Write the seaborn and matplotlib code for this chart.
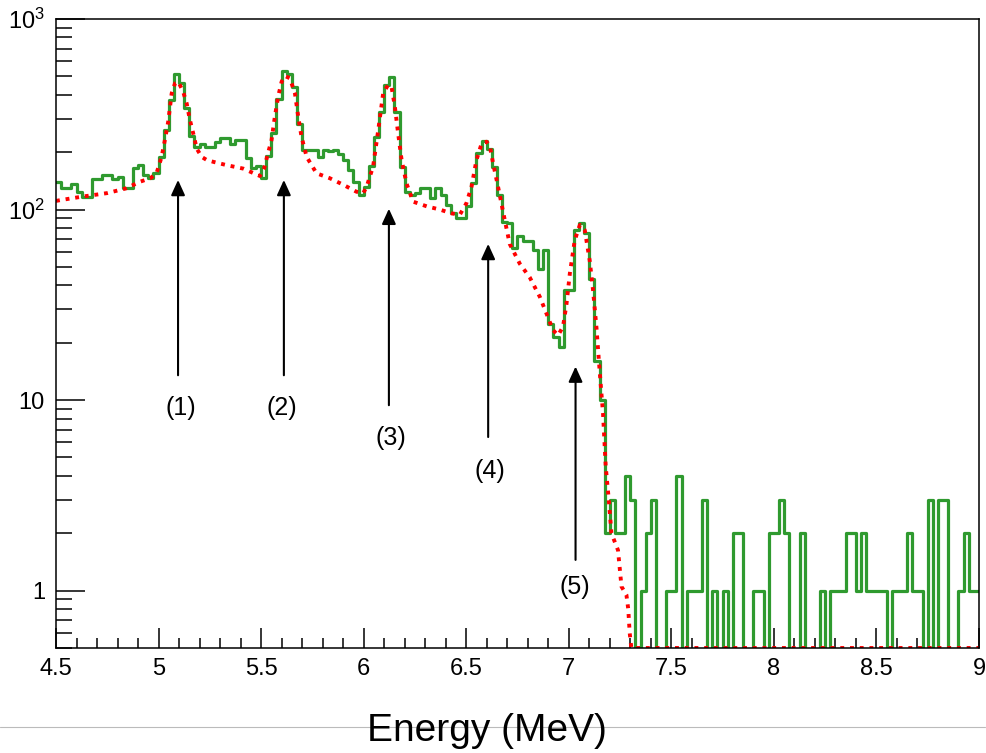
import numpy as np
import pandas as pd
import matplotlib
matplotlib.use("Agg")
import matplotlib.pyplot as plt
import seaborn as sns
from matplotlib.ticker import FixedLocator, MultipleLocator, LogLocator, NullFormatter, FuncFormatter
from matplotlib.lines import Line2D

# ==============================================
# Data (0.025 MeV bins, 4.5 -> 9 MeV)
# ==============================================
e_min = 4.5
e_max = 9.0
bin_w = 0.025

counts = [
    140, 130, 130, 136, 124, 117, 117, 144, 144, 152,
    152, 144, 149, 129, 129, 166, 172, 152, 146, 155,
    189, 261, 376, 514, 463, 340, 243, 212, 222, 212,
    214, 227, 237, 237, 220, 232, 232, 187, 166, 170,
    146, 190, 251, 379, 535, 514, 441, 280, 205, 205,
    205, 189, 205, 202, 205, 195, 182, 161, 140, 119,
    132, 170, 241, 326, 451, 498, 326, 168, 124, 119,
    122, 129, 129, 115, 129, 119, 106, 95.5, 90, 90,
    104, 137, 197, 230, 209, 168, 119, 86, 85, 62.5,
    73, 68, 68, 61, 49, 61, 25, 21.5, 19, 38,
    38, 78, 85, 75, 43, 16, 10, 2, 3, 2,
    2, 4, 3, 0, 1, 2, 3, 0, 0, 1,
    1, 4, 0, 1, 1, 1, 3, 0, 1, 0,
    1, 0, 2, 2, 0, 0, 1, 1, 0, 2,
    2, 3, 2, 0, 0, 2, 0, 0, 0, 1,
    0, 1, 1, 1, 2, 2, 1, 2, 1, 1,
    1, 1, 0, 1, 1, 1, 2, 1, 1, 0,
    3, 0, 3, 3, 0, 0, 1, 2, 1, 1,
]

# fit curve (red dotted)
fit_e = [4.50, 4.52, 4.63, 4.75, 4.84, 4.91, 4.96, 4.99, 5.015, 5.031,
         5.047, 5.064, 5.080, 5.096, 5.120, 5.137, 5.153, 5.169, 5.186, 5.210,
         5.235, 5.267, 5.332, 5.413, 5.494, 5.515, 5.535, 5.551, 5.567, 5.583,
         5.600, 5.616, 5.640, 5.665, 5.681, 5.697, 5.722, 5.770, 5.835, 5.900,
         5.965, 5.998, 6.015, 6.030, 6.046, 6.071, 6.095, 6.119, 6.136, 6.152,
         6.168, 6.185, 6.209, 6.241, 6.307, 6.371, 6.428, 6.469, 6.501, 6.526,
         6.550, 6.575, 6.599, 6.615, 6.631, 6.655, 6.688, 6.712, 6.761, 6.810,
         6.859, 6.891, 6.923, 6.948, 6.972, 6.989, 7.005, 7.029, 7.054, 7.078,
         7.102, 7.118, 7.135, 7.151, 7.167, 7.180, 7.195, 7.208, 7.240, 7.257,
         7.281, 7.290, 7.297, 7.305, 7.320, 9.000]
fit_val = [111, 112, 117, 122, 129, 140, 146, 155, 189, 232,
           289, 407, 459, 469, 415, 361, 295, 251, 209, 189,
           182, 178, 171, 164, 150, 165, 200, 232, 307, 391,
           469, 502, 489, 407, 307, 241, 189, 155, 146, 135,
           124, 122, 132, 149, 168, 261, 407, 451, 440, 347,
           251, 182, 137, 110, 104, 100, 95.5, 94, 108, 132,
           182, 222, 227, 215, 175, 132, 88, 66, 52, 44,
           34.8, 28.5, 23.3, 21.9, 24.3, 32, 46, 69, 83, 78,
           54, 38, 24, 14, 8.5, 4.5, 3.0, 2.0, 1.63, 1.05,
           0.95, 0.8, 0.6, 0.5, 0, 0]

# peak markers
peak_labels = ["(1)", "(2)", "(3)", "(4)", "(5)"]
arrow_x = [5.095, 5.611, 6.123, 6.607, 7.033]
arrow_tip = [143, 143, 101, 66, 15]
arrow_tail = [13.5, 13.5, 9.4, 6.4, 1.45]
label_x = [5.109, 5.601, 6.133, 6.615, 7.029]
label_y = [9.1, 9.1, 6.3, 4.24, 1.04]

y_min, y_max = 0.5, 1000

# ==============================================
# Plot
# ==============================================
sns.set_style("ticks")
plt.rcParams["font.family"] = ["Liberation Sans", "DejaVu Sans"]
plt.rcParams["text.color"] = "black"
plt.rcParams["xtick.color"] = "black"
plt.rcParams["ytick.color"] = "black"
plt.rcParams["axes.edgecolor"] = "black"

W, H = 987, 753
fig = plt.figure(figsize=(W / 100, H / 100), dpi=100)
ax = fig.add_axes([56 / W, 1 - 648 / H, (979 - 56) / W, (648 - 19) / H])

centers = e_min + bin_w * (np.arange(len(counts)) + 0.5)
df = pd.DataFrame({"energy": centers, "counts": counts})
sns.histplot(data=df, x="energy", weights="counts", binwidth=bin_w, binrange=(e_min, e_max),
             element="step", fill=False, color="#2f9a2f", linewidth=2.3, ax=ax)

fit_df = pd.DataFrame({"energy": fit_e, "fit": np.clip(fit_val, y_min, None)})
sns.lineplot(data=fit_df, x="energy", y="fit", color="red", linewidth=2.8,
             linestyle=(0, (1, 1.5)), sort=False, ax=ax)

ax.set_yscale("log")
ax.set_xlim(e_min, e_max)
ax.set_ylim(y_min, y_max)
ax.set_xlabel("")
ax.set_ylabel("")

ax.xaxis.set_major_locator(MultipleLocator(0.5))
ax.xaxis.set_minor_locator(MultipleLocator(0.1))
ax.xaxis.set_major_formatter(FuncFormatter(lambda v, p: f"{v:g}"))
ax.yaxis.set_major_locator(FixedLocator([1, 10, 100, 1000]))
ax.set_yticklabels(["1", "10", r"$\mathregular{10^{2}}$", r"$\mathregular{10^{3}}$"])
ax.yaxis.set_minor_locator(LogLocator(base=10, subs=np.arange(2, 10) * 1.0, numticks=20))
ax.yaxis.set_minor_formatter(NullFormatter())

ax.tick_params(which="both", direction="in", top=False, right=False, width=1.1,
               color="black", labelcolor="black")
ax.tick_params(axis="y", which="major", length=21, pad=8, labelsize=17)
ax.tick_params(axis="y", which="minor", length=11.5)
ax.tick_params(axis="x", which="major", length=14.5, pad=7, labelsize=17)
ax.tick_params(axis="x", which="minor", length=7.2)
for sp in ax.spines.values():
    sp.set_linewidth(1.1)
    sp.set_color("black")

for lab, x, tip, tail, lx, ly in zip(peak_labels, arrow_x, arrow_tip, arrow_tail, label_x, label_y):
    ax.annotate("", xy=(x, tip), xytext=(x, tail),
                arrowprops=dict(arrowstyle="-|>,head_length=0.46,head_width=0.21",
                                color="black", lw=1.5, mutation_scale=20,
                                shrinkA=0, shrinkB=0))
    ax.text(lx, ly, lab, ha="center", va="center", fontsize=18, color="black")

fig.add_artist(Line2D([0, 985 / W], [1 - 727 / H, 1 - 727 / H], color="#bbbbbb",
                      lw=0.8, transform=fig.transFigure, zorder=0))
fig.text(486.5 / W, 1 - 731 / H, "Energy (MeV)", fontsize=28, ha="center", va="center",
         color="black")

fig.savefig("out.png", dpi=100)
plt.close()
